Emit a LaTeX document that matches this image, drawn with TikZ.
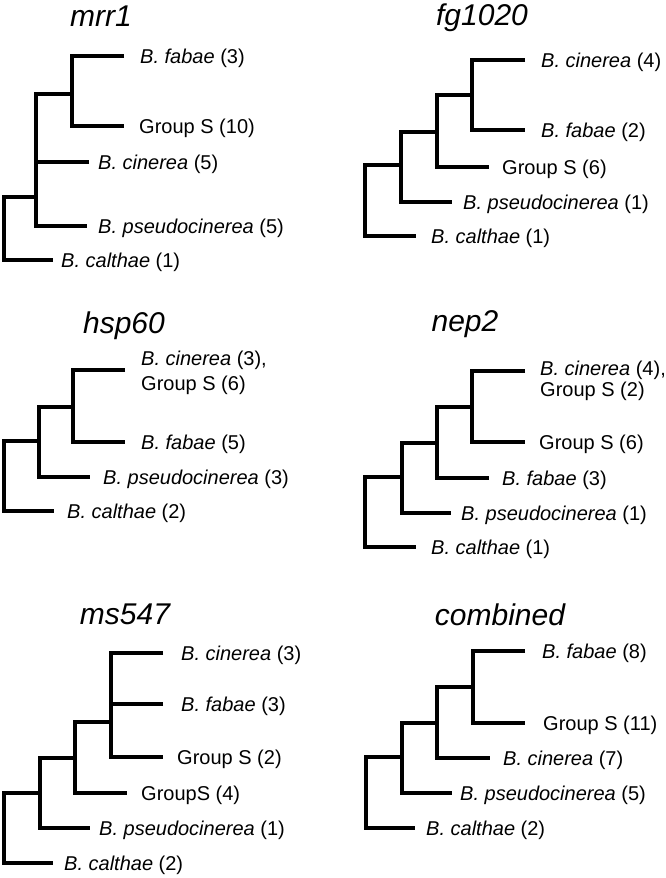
\documentclass[tikz,border=0pt]{standalone}
\usepackage{fontspec}
\setmainfont{Liberation Sans}
\newcommand\lbl[4]{\node[lab] (#1) at ({#2-1},{#3+7}) {#4};}
\begin{document}
\begin{tikzpicture}[x=1pt,y=-1pt,
  br/.style={line width=3.1pt,line join=miter},
  lab/.style={anchor=base west,inner sep=0pt,font=\fontsize{20}{24}\selectfont},
  ttl/.style={anchor=base,inner sep=0pt,font=\fontsize{30}{36}\selectfont\itshape}]
\useasboundingbox (0,0) rectangle (666,878);

% ---------- mrr1 ----------
\node[ttl] (a-t) at (101,27) {mrr1};
\coordinate (a-r) at (4,228);
\coordinate (a-n2) at (36,197);
\coordinate (a-n3) at (72,94);
\coordinate (a-fab) at (124,56);
\coordinate (a-gs) at (124,126);
\coordinate (a-cin) at (89,162);
\coordinate (a-pse) at (87,226);
\coordinate (a-cal) at (53,260);
\draw[br] (a-fab) -| (a-n3) |- (a-gs);
\draw[br] (a-n3) -| (a-n2) |- (a-pse);
\draw[br] (a-cin) -- (a-n2 |- a-cin);
\draw[br] (a-n2) -| (a-r) |- (a-cal);
\lbl{a-l1}{141}{56}{\textit{B. fabae} (3)}
\lbl{a-l2}{140}{126}{Group S (10)}
\lbl{a-l3}{99}{162}{\textit{B. cinerea} (5)}
\lbl{a-l4}{99}{226}{\textit{B. pseudocinerea} (5)}
\lbl{a-l5}{62}{260}{\textit{B. calthae} (1)}

% ---------- fg1020 ----------
\node[ttl] (b-t) at (482,25) {fg1020};
\coordinate (b-r) at (365,200);
\coordinate (b-n2) at (401,165);
\coordinate (b-n3) at (437,132);
\coordinate (b-n4) at (472,95);
\coordinate (b-cin) at (525,60);
\coordinate (b-fab) at (525,130);
\coordinate (b-gs) at (489,167);
\coordinate (b-pse) at (452,202);
\coordinate (b-cal) at (416,236);
\draw[br] (b-cin) -| (b-n4) |- (b-fab);
\draw[br] (b-n4) -| (b-n3) |- (b-gs);
\draw[br] (b-n3) -| (b-n2) |- (b-pse);
\draw[br] (b-n2) -| (b-r) |- (b-cal);
\lbl{b-l1}{542}{60}{\textit{B. cinerea} (4)}
\lbl{b-l2}{542}{130}{\textit{B. fabae} (2)}
\lbl{b-l3}{503}{167}{Group S (6)}
\lbl{b-l4}{464}{202}{\textit{B. pseudocinerea} (1)}
\lbl{b-l5}{432}{236}{\textit{B. calthae} (1)}

% ---------- hsp60 ----------
\node[ttl] (c-t) at (124,333) {hsp60};
\coordinate (c-r) at (4,476);
\coordinate (c-n2) at (39,441);
\coordinate (c-n3) at (73,407);
\coordinate (c-top) at (125,370);
\coordinate (c-fab) at (125,442);
\coordinate (c-pse) at (90,477);
\coordinate (c-cal) at (54,511);
\draw[br] (c-top) -| (c-n3) |- (c-fab);
\draw[br] (c-n3) -| (c-n2) |- (c-pse);
\draw[br] (c-n2) -| (c-r) |- (c-cal);
\lbl{c-l1a}{142}{358}{\textit{B. cinerea} (3),}
\lbl{c-l1b}{142}{383}{Group S (6)}
\lbl{c-l2}{142}{442}{\textit{B. fabae} (5)}
\lbl{c-l3}{104}{477}{\textit{B. pseudocinerea} (3)}
\lbl{c-l4}{68}{511}{\textit{B. calthae} (2)}

% ---------- nep2 ----------
\node[ttl] (d-t) at (465,331) {nep2};
\coordinate (d-r) at (365,512);
\coordinate (d-n2) at (402,477);
\coordinate (d-n3) at (437,443);
\coordinate (d-n4) at (472,407);
\coordinate (d-top) at (525,371);
\coordinate (d-gs) at (525,442);
\coordinate (d-fab) at (489,478);
\coordinate (d-pse) at (451,513);
\coordinate (d-cal) at (416,547);
\draw[br] (d-top) -| (d-n4) |- (d-gs);
\draw[br] (d-n4) -| (d-n3) |- (d-fab);
\draw[br] (d-n3) -| (d-n2) |- (d-pse);
\draw[br] (d-n2) -| (d-r) |- (d-cal);
\lbl{d-l1a}{541}{368}{\textit{B. cinerea} (4),}
\lbl{d-l1b}{541}{389}{Group S (2)}
\lbl{d-l2}{540}{442}{Group S (6)}
\lbl{d-l3}{503}{478}{\textit{B. fabae} (3)}
\lbl{d-l4}{462}{513}{\textit{B. pseudocinerea} (1)}
\lbl{d-l5}{432}{547}{\textit{B. calthae} (1)}

% ---------- ms547 ----------
\node[ttl] (e-t) at (125,624) {ms547};
\coordinate (e-r) at (4,828);
\coordinate (e-n2) at (40,793);
\coordinate (e-n3) at (75,758);
\coordinate (e-n4) at (111,722);
\coordinate (e-cin) at (163,653);
\coordinate (e-fab) at (163,704);
\coordinate (e-gs2) at (163,757);
\coordinate (e-gs4) at (127,793);
\coordinate (e-pse) at (90,828);
\coordinate (e-cal) at (53,863);
\draw[br] (e-cin) -| (e-n4) |- (e-gs2);
\draw[br] (e-fab) -- (e-n4 |- e-fab);
\draw[br] (e-n4) -| (e-n3) |- (e-gs4);
\draw[br] (e-n3) -| (e-n2) |- (e-pse);
\draw[br] (e-n2) -| (e-r) |- (e-cal);
\lbl{e-l1}{182}{653}{\textit{B. cinerea} (3)}
\lbl{e-l2}{182}{704}{\textit{B. fabae} (3)}
\lbl{e-l3}{178}{757}{Group S (2)}
\lbl{e-l4}{142}{793}{GroupS (4)}
\lbl{e-l5}{100}{828}{\textit{B. pseudocinerea} (1)}
\lbl{e-l6}{65}{863}{\textit{B. calthae} (2)}

% ---------- combined ----------
\node[ttl] (f-t) at (500,625) {combined};
\coordinate (f-r) at (366,792);
\coordinate (f-n2) at (402,757);
\coordinate (f-n3) at (437,723);
\coordinate (f-n4) at (473,687);
\coordinate (f-fab) at (525,651);
\coordinate (f-gs) at (525,723);
\coordinate (f-cin) at (490,758);
\coordinate (f-pse) at (452,793);
\coordinate (f-cal) at (415,828);
\draw[br] (f-fab) -| (f-n4) |- (f-gs);
\draw[br] (f-n4) -| (f-n3) |- (f-cin);
\draw[br] (f-n3) -| (f-n2) |- (f-pse);
\draw[br] (f-n2) -| (f-r) |- (f-cal);
\lbl{f-l1}{543}{651}{\textit{B. fabae} (8)}
\lbl{f-l2}{544}{723}{Group S (11)}
\lbl{f-l3}{504}{758}{\textit{B. cinerea} (7)}
\lbl{f-l4}{461}{793}{\textit{B. pseudocinerea} (5)}
\lbl{f-l5}{427}{828}{\textit{B. calthae} (2)}
\end{tikzpicture}
\end{document}
